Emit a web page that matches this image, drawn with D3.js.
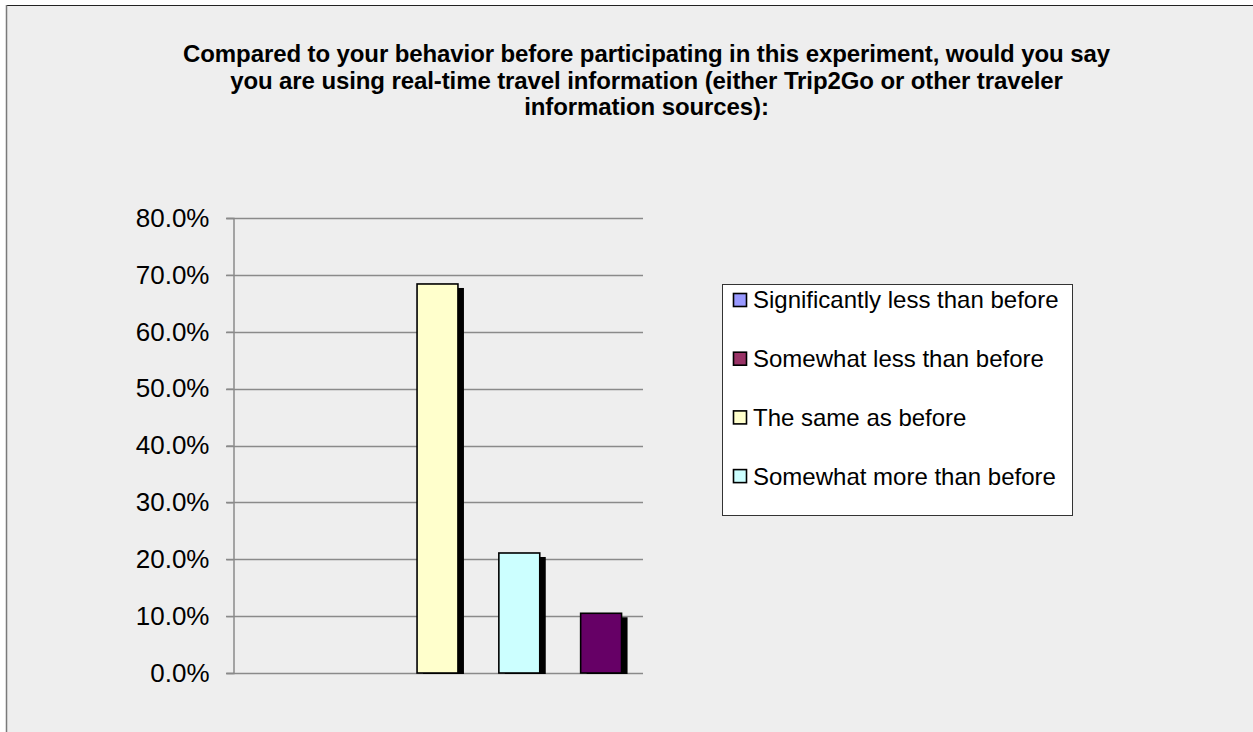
<!DOCTYPE html>
<html>
<head>
<meta charset="utf-8">
<script src="https://cdn.jsdelivr.net/npm/d3@7"></script>
<style>
  html, body { margin: 0; padding: 0; background: #ffffff; }
  svg { display: block; }
</style>
</head>
<body>
<svg id="chart" width="1253" height="732"></svg>
<script>
// Survey responses (share of respondents)
const categories = [
  "Significantly less than before",
  "Somewhat less than before",
  "The same as before",
  "Somewhat more than before",
  "Significantly more than before"
];
const values = [0, 0, 0.684, 0.211, 0.105];
const barColors = ["#9999FF", "#993366", "#FFFFCC", "#CCFFFF", "#660066"];
const barOrder = [0, 1, 2, 3, 4];
const tickValues = [0, 0.1, 0.2, 0.3, 0.4, 0.5, 0.6, 0.7, 0.8];
const legendItems = categories.slice(0, 4);
const titleLines = [
  "Compared to your behavior before participating in this experiment, would you say",
  "you are using real-time travel information (either Trip2Go or other traveler",
  "information sources):"
];

const svg = d3.select("#chart");
const W = 1253, H = 732;

// chart area frame
svg.append("rect")
  .attr("x", 6).attr("y", 5)
  .attr("width", W + 10).attr("height", H + 10)
  .attr("fill", "#eeeeee");
svg.append("line").attr("x1", 6).attr("x2", W).attr("y1", 5.5).attr("y2", 5.5)
  .attr("stroke", "#222").attr("stroke-width", 1.2);
svg.append("line").attr("x1", 6.5).attr("x2", 6.5).attr("y1", 5).attr("y2", H)
  .attr("stroke", "#7a7a7a").attr("stroke-width", 1.5);

// title
const title = svg.append("text")
  .attr("text-anchor", "middle")
  .attr("font-family", "'Liberation Sans', Arial, sans-serif")
  .attr("font-weight", "bold")
  .attr("font-size", 24)
  .attr("letter-spacing", -0.1)
  .attr("fill", "#000");
titleLines.forEach((t, i) => {
  title.append("tspan").attr("x", 646.5).attr("y", 62 + i * 26.5).text(t);
});

// scales
const x = d3.scaleBand()
  .domain(barOrder)
  .range([233, 642])
  .paddingInner(0.5)
  .paddingOuter(0.25);
const y = d3.scaleLinear().domain([0, 0.8]).range([673, 218]);

// gridlines
svg.append("g")
  .selectAll("line")
  .data(tickValues)
  .join("line")
  .attr("x1", 226).attr("x2", 643)
  .attr("y1", d => Math.round(y(d)) + 0.5)
  .attr("y2", d => Math.round(y(d)) + 0.5)
  .attr("stroke", "#8a8a8a")
  .attr("stroke-width", 1.3);

// y axis
const yAxis = d3.axisLeft(y)
  .tickValues(tickValues)
  .tickFormat(d3.format(".1%"))
  .tickSize(7)
  .tickPadding(17);
const gAxis = svg.append("g")
  .attr("transform", "translate(233.5,0)")
  .call(yAxis);
gAxis.select(".domain").attr("stroke", "#8a8a8a").attr("stroke-width", 1.5);
gAxis.selectAll(".tick line").attr("stroke", "#8a8a8a").attr("stroke-width", 1.3);
gAxis.selectAll(".tick text")
  .attr("font-family", "'Liberation Sans', Arial, sans-serif")
  .attr("font-size", 26)
  .attr("fill", "#000");

// bars with drop shadow
const bars = barOrder.filter(i => values[i] > 0);
svg.append("g")
  .selectAll("rect")
  .data(bars)
  .join("rect")
  .attr("x", i => x(i) + 6)
  .attr("y", i => y(values[i]) + 4)
  .attr("width", x.bandwidth())
  .attr("height", i => y(0) - y(values[i]) - 3)
  .attr("fill", "#000");
svg.append("g")
  .selectAll("rect")
  .data(bars)
  .join("rect")
  .attr("x", i => x(i))
  .attr("y", i => y(values[i]))
  .attr("width", x.bandwidth())
  .attr("height", i => y(0) - y(values[i]))
  .attr("fill", i => barColors[i])
  .attr("stroke", "#000")
  .attr("stroke-width", 1.6);

// legend
const lg = svg.append("g");
lg.append("rect")
  .attr("x", 722.5).attr("y", 284.5)
  .attr("width", 350).attr("height", 231)
  .attr("fill", "#ffffff")
  .attr("stroke", "#333").attr("stroke-width", 1);
const rows = lg.selectAll("g.item")
  .data(legendItems)
  .join("g")
  .attr("class", "item")
  .attr("transform", (d, i) => `translate(733, ${300 + i * 58.7})`);
rows.append("rect")
  .attr("x", 0.5).attr("y", -6.5)
  .attr("width", 13).attr("height", 13)
  .attr("fill", (d, i) => barColors[i])
  .attr("stroke", "#000").attr("stroke-width", 1.6);
rows.append("text")
  .attr("x", 20).attr("y", 0)
  .attr("dy", "0.35em")
  .attr("font-family", "'Liberation Sans', Arial, sans-serif")
  .attr("font-size", 24)
  .attr("fill", "#000")
  .text(d => d);
</script>
</body>
</html>
